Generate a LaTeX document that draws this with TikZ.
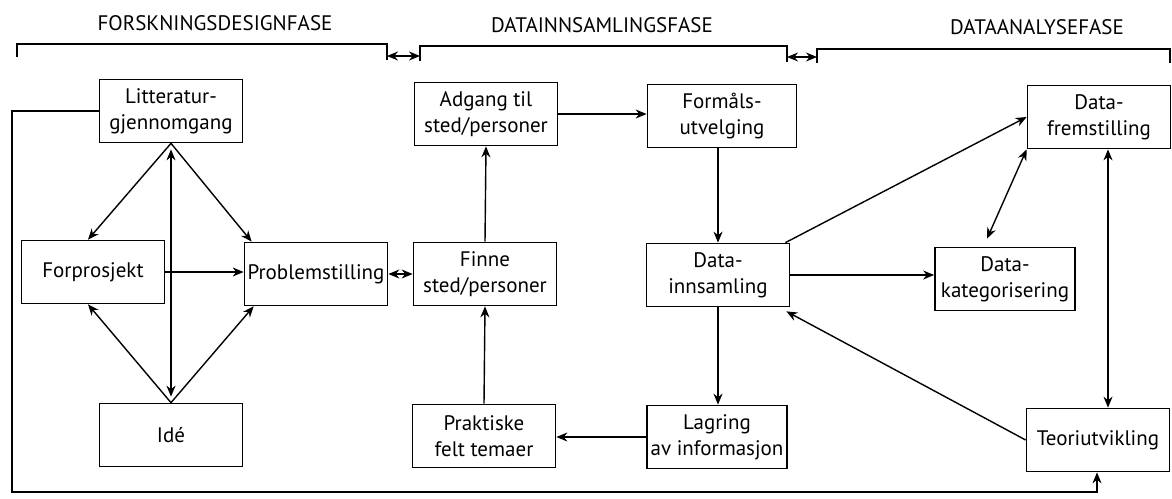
\documentclass[tikz,border=0pt]{standalone}
\usepackage{fontspec}
\setmainfont{PT Sans}
\usetikzlibrary{arrows.meta}
\begin{document}
\begin{tikzpicture}[x=1pt,y=-1pt,
  box/.style={draw,line width=1.7pt,minimum width=143pt,minimum height=63pt,
    align=center,inner sep=2pt,font=\fontsize{21}{26}\selectfont},
  conn/.style={line width=1.4pt,-{Stealth[length=11pt,width=9pt]}},
  both/.style={line width=1.4pt,{Stealth[length=11pt,width=9pt]}-{Stealth[length=11pt,width=9pt]}},
  phase/.style={font=\fontsize{21}{24}\selectfont},
  bracket/.style={line width=1.4pt}]
\useasboundingbox (0,0) rectangle (1172,498);

% phase headings
\node[phase] (h1) at (215,23) {FORSKNINGSDESIGNFASE};
\node[phase] (h2) at (602,25) {DATAINNSAMLINGSFASE};
\node[phase] (h3) at (1037,27) {DATAANALYSEFASE};

% phase brackets
\coordinate (b1r) at (387,56);
\coordinate (b2l) at (420,56);
\coordinate (b2r) at (787,57);
\coordinate (b3l) at (817,57);
\draw[bracket] (17,57) |- (387,44) -- (387,60);
\draw[bracket] (420,61) |- (787,46) -- (787,62);
\draw[bracket] (817,63) |- (1170,49) -- (1170,63);
\draw[both] (b1r) -- (b2l);
\draw[both] (b2r) -- (b3l);

% boxes
\node[box] (lit) at (171,111) {Litteratur-\\gjennomgang};
\node[box] (forp) at (93,272) {Forprosjekt};
\node[box] (prob) at (316,274) {Problemstilling};
\node[box] (ide) at (171,435) {Idé};
\node[box] (finne) at (485,274) {Finne\\sted/personer};
\node[box] (adg) at (486,114) {Adgang til\\sted/personer};
\node[box,minimum width=149pt] (form) at (722,116) {Formåls-\\utvelging};
\node[box] (dinn) at (718,275) {Data-\\innsamling};
\node[box] (prak) at (484,436) {Praktiske\\felt temaer};
\node[box,minimum width=140pt] (lag) at (717,437) {Lagring\\av informasjon};
\node[box] (dfrem) at (1099,117) {Data-\\fremstilling};
\node[box,minimum width=140pt] (dkat) at (1005,279) {Data-\\kategorisering};
\node[box] (teori) at (1098,440) {Teoriutvikling};

% research design phase
\draw[conn] (lit.south) -- ([xshift=-5pt]forp.north);
\draw[conn] (lit.south) -- ([xshift=8pt]prob.north west);
\draw[both,shorten <=6pt,shorten >=6pt] (lit.south) -- (ide.north);
\draw[conn] (ide.north) -- ([xshift=-5pt]forp.south);
\draw[conn] (ide.north) -- ([xshift=10pt]prob.south west);
\draw[conn] (forp.east) -- (forp.east -| prob.west);
\draw[both] (prob.east) -- (prob.east -| finne.west);

% data collection phase
\draw[conn] (finne.north) -- (adg.south);
\draw[conn] (adg.east) -- (adg.east -| form.west);
\draw[conn] (form.south -| dinn.north) -- (dinn.north);
\draw[conn] (dinn.south) -- (dinn.south |- lag.north);
\draw[conn] (lag.west) -- (lag.west -| prak.east);
\draw[conn] (prak.north) -- (finne.south);

% data analysis phase
\draw[conn] ([xshift=-5pt]dinn.north east) -- (dfrem.west);
\draw[conn] (dinn.east) -- (dinn.east -| dkat.west);
\draw[both] ([xshift=-18pt,yshift=8pt]dkat.north) -- (dfrem.south west);
\draw[both] ([xshift=9pt]dfrem.south) -- ([xshift=10pt]teori.north);
\draw[conn] (teori.west) -- ([xshift=-4pt,yshift=-4pt]dinn.south east);

% feedback loop from the literature review to theory development
\coordinate (fbl) at (12,492);
\coordinate (fbr) at (1097,492);
\draw[conn] (lit.west) -| (fbl) -- (fbr) -- (fbr |- teori.south);
\end{tikzpicture}
\end{document}
